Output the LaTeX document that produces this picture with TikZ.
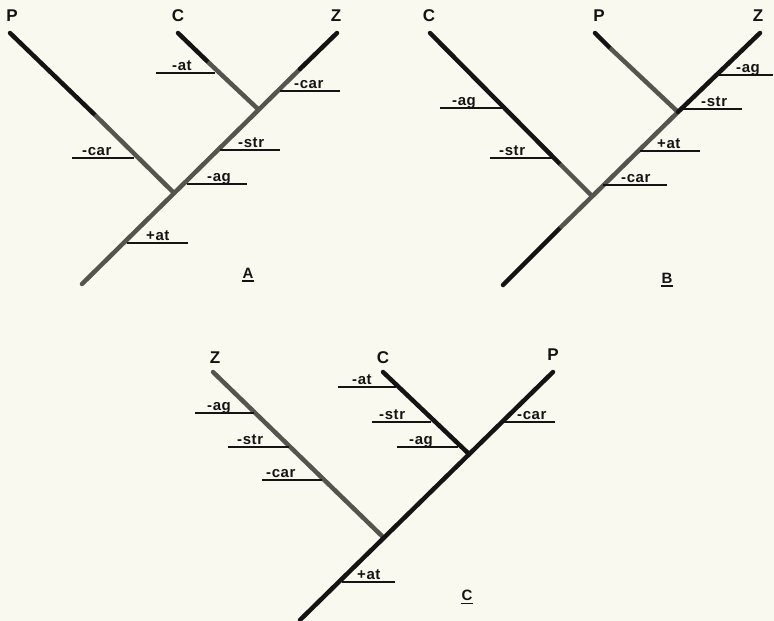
\documentclass[tikz,border=0pt]{standalone}
\usepackage{fontspec}
\setmainfont{Liberation Sans}
\newfontfamily\labfont[LetterSpace=4]{Liberation Sans}
\definecolor{bg}{RGB}{250,249,239}
\definecolor{ink}{RGB}{20,20,20}
\definecolor{stip}{RGB}{85,85,80}
\tikzset{
  br/.style={line width=4.5pt, draw=ink},
  grb/.style={line width=4.5pt, draw=stip},
  tick/.style={line width=1.3pt, draw=ink},
  ul/.style={line width=1.8pt, draw=ink},
  lab/.style={anchor=base west, inner sep=0pt, font=\labfont\bfseries\fontsize{15}{15}\selectfont, text=ink},
  taxon/.style={inner sep=0pt, font=\bfseries\fontsize{17}{17}\selectfont, text=ink},
  title/.style={inner sep=0pt, font=\bfseries\fontsize{15}{15}\selectfont, text=ink}
}
\newcommand\lbl[6]{\node[lab] (#1) at (#5,#4-3) {#6};\draw[tick] (#2,#4) -- (#3,#4);}
\newcommand\ttl[3]{\node[title] (#1) at (#2) {#3};\draw[ul] ([yshift=-3pt]#1.south west) -- ([yshift=-3pt]#1.south east);}
\begin{document}
\begin{tikzpicture}[x=1pt,y=-1pt]
\path[fill=bg] (0,0) rectangle (774,621);
\useasboundingbox (0,0) rectangle (774,621);
% ---------------- Tree A
\coordinate (aR) at (82,284);
\coordinate (aJ1) at (173,192);
\coordinate (aJ2) at (259,110);
\coordinate (aP) at (10,33);
\coordinate (aPm) at (95,115);
\coordinate (aC) at (178,33);
\coordinate (aCm) at (208,62);
\coordinate (aZ) at (337,33);
\coordinate (aZm) at (300,69);
\draw[br,line cap=round] (aP) -- (aPm);
\draw[grb] (aPm) -- (aJ1);
\draw[br,line cap=round] (aC) -- (aCm);
\draw[grb] (aCm) -- (aJ2);
\draw[grb,line cap=round] (aR) -- (aZm);
\draw[br,line cap=round] (aZm) -- (aZ);
\node[taxon] (aPl) at (12,16) {P};
\node[taxon] (aCl) at (178,16) {C};
\node[taxon] (aZl) at (336,16) {Z};
\lbl{a1}{156}{215}{73}{172}{-at}
\lbl{a2}{280}{340}{91}{294}{-car}
\lbl{a3}{220}{280}{150}{238}{-str}
\lbl{a4}{187}{247}{184}{207}{-ag}
\lbl{a5}{72}{134}{158}{82}{-car}
\lbl{a6}{127}{188}{243}{146}{+at}
\ttl{aT}{248,273}{A}
% ---------------- Tree B
\coordinate (bR) at (503,285);
\coordinate (bJ1) at (592,196);
\coordinate (bJ2) at (678,112);
\coordinate (bC) at (430,33);
\coordinate (bCm) at (560,164);
\coordinate (bP) at (595,33);
\coordinate (bPm) at (610,48);
\coordinate (bZ) at (760,33);
\coordinate (bRm) at (560,228);
\draw[br,line cap=round] (bC) -- (bCm);
\draw[grb] (bCm) -- (bJ1);
\draw[br,line cap=round] (bP) -- (bPm);
\draw[grb] (bPm) -- (bJ2);
\draw[br,line cap=round] (bR) -- (bRm);
\draw[grb] (bRm) -- (bJ2);
\draw[br,line cap=round] (bJ2) -- (bZ);
\node[taxon] (bCl) at (429,16) {C};
\node[taxon] (bPl) at (599,16) {P};
\node[taxon] (bZl) at (758,16) {Z};
\lbl{b1}{717}{773}{75}{736}{-ag}
\lbl{b2}{680}{742}{109}{701}{-str}
\lbl{b3}{640}{700}{151}{657}{+at}
\lbl{b4}{603}{667}{185}{621}{-car}
\lbl{b5}{440}{503}{108}{452}{-ag}
\lbl{b6}{490}{553}{158}{499}{-str}
\ttl{bT}{667,278}{B}
% ---------------- Tree C
\coordinate (cR) at (300,620);
\coordinate (cJ1) at (383,537);
\coordinate (cJ2) at (469,454);
\coordinate (cZ) at (213,372);
\coordinate (cC) at (383,372);
\coordinate (cP) at (553,372);
\draw[grb,line cap=round] (cZ) -- (cJ1);
\draw[br,line cap=round] (cC) -- (cJ2);
\draw[br,line cap=round] (cR) -- (cP);
\node[taxon] (cZl) at (215,358) {Z};
\node[taxon] (cCl) at (383,358) {C};
\node[taxon] (cPl) at (553,355) {P};
\lbl{c1}{338}{396}{387}{352}{-at}
\lbl{c2}{372}{431}{422}{379}{-str}
\lbl{c3}{397}{458}{447}{409}{-ag}
\lbl{c4}{503}{555}{422}{517}{-car}
\lbl{c5}{195}{254}{413}{207}{-ag}
\lbl{c6}{228}{289}{447}{237}{-str}
\lbl{c7}{262}{322}{480}{266}{-car}
\lbl{c8}{342}{395}{582}{357}{+at}
\ttl{cT}{467,595}{C}
\end{tikzpicture}
\end{document}
